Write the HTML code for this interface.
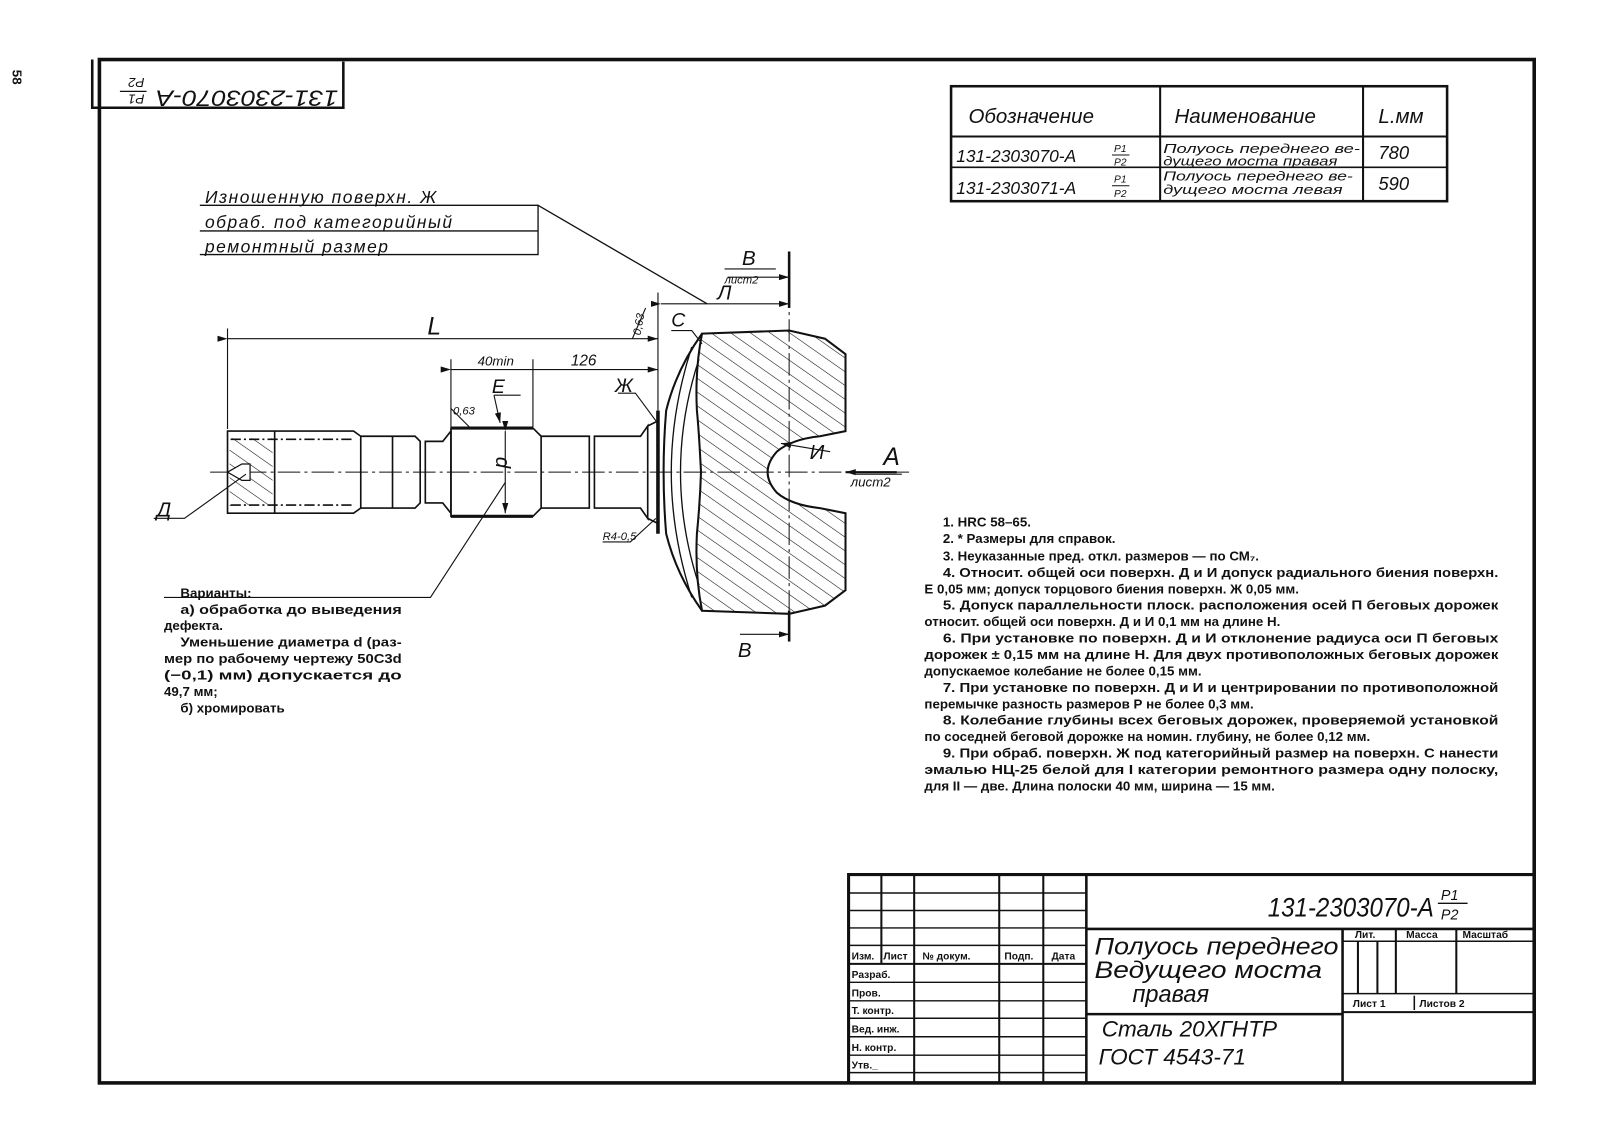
<!DOCTYPE html>
<html><head><meta charset="utf-8"><style>
html,body{margin:0;padding:0;background:#fff;width:1608px;height:1125px;overflow:hidden}
svg{display:block}
.h{font-family:"Liberation Sans","DejaVu Sans",sans-serif;font-style:italic;fill:#111}
.n{font-family:"Liberation Sans","DejaVu Sans",sans-serif;font-weight:bold;fill:#111;font-size:13px}
.s{font-family:"Liberation Sans","DejaVu Sans",sans-serif;font-weight:bold;fill:#111;font-size:10px}
</style></head><body>
<svg width="1608" height="1125" viewBox="0 0 1569 1096" preserveAspectRatio="none" xmlns="http://www.w3.org/2000/svg">
<defs>
<pattern id="hat" patternUnits="userSpaceOnUse" width="11" height="11" patternTransform="rotate(-55)">
<line x1="0" y1="0" x2="0" y2="11" stroke="#111" stroke-width="1.1"/>
</pattern>
<marker id="ar" markerWidth="10" markerHeight="6" refX="10" refY="3" orient="auto" markerUnits="userSpaceOnUse"><path d="M0,0 L10,3 L0,6 z" fill="#111"/></marker>
</defs>
<g stroke="#111" fill="none">
<rect x="97" y="58" width="1400" height="997" stroke-width="3.5"/>
<path d="M90 58 V105 H335 V60" stroke-width="2.5"/>
<rect x="928" y="84" width="484" height="112" stroke-width="2.5"/>
<line x1="928" y1="133" x2="1412" y2="133" stroke-width="2"/>
<line x1="928" y1="163" x2="1412" y2="163" stroke-width="1.5"/>
<line x1="1132" y1="84" x2="1132" y2="196" stroke-width="2"/>
<line x1="1330" y1="84" x2="1330" y2="196" stroke-width="2"/>
<line x1="1085" y1="151" x2="1102" y2="151" stroke-width="1"/>
<line x1="1085" y1="181" x2="1102" y2="181" stroke-width="1"/>
<path d="M828 1055 V852 H1497" stroke-width="3"/>
<g stroke-width="2">
<line x1="860" y1="852" x2="860" y2="939"/><line x1="892" y1="852" x2="892" y2="1055"/>
<line x1="975" y1="852" x2="975" y2="1055"/><line x1="1018" y1="852" x2="1018" y2="1055"/>
<line x1="1060" y1="852" x2="1060" y2="1055" stroke-width="2.5"/>
</g>
<g stroke-width="1.4">
<line x1="828" y1="870" x2="1060" y2="870"/><line x1="828" y1="887" x2="1060" y2="887"/>
<line x1="828" y1="904" x2="1060" y2="904"/><line x1="828" y1="921" x2="1060" y2="921"/>
<line x1="828" y1="939" x2="1060" y2="939" stroke-width="2"/>
<line x1="828" y1="957" x2="1060" y2="957"/><line x1="828" y1="975" x2="1060" y2="975"/>
<line x1="828" y1="992" x2="1060" y2="992"/><line x1="828" y1="1010" x2="1060" y2="1010"/>
<line x1="828" y1="1028" x2="1060" y2="1028"/><line x1="828" y1="1045" x2="1060" y2="1045"/>
</g>
<line x1="1060" y1="905" x2="1497" y2="905" stroke-width="2.5"/>
<line x1="1060" y1="988" x2="1310" y2="988" stroke-width="2.5"/>
<line x1="1310" y1="905" x2="1310" y2="1055" stroke-width="2.5"/>
<line x1="1310" y1="917" x2="1497" y2="917" stroke-width="1.5"/>
<line x1="1310" y1="968" x2="1497" y2="968" stroke-width="1.5"/>
<line x1="1310" y1="986" x2="1497" y2="986" stroke-width="2"/>
<line x1="1325" y1="917" x2="1325" y2="968" stroke-width="2"/>
<line x1="1344" y1="917" x2="1344" y2="968" stroke-width="2"/>
<line x1="1362" y1="905" x2="1362" y2="968" stroke-width="2"/>
<line x1="1421" y1="905" x2="1421" y2="968" stroke-width="2"/>
<line x1="1380" y1="970" x2="1380" y2="984" stroke-width="1.5"/>

<path d="M195 200 H525 V248 H195 M195 225 H525" stroke-width="1.3"/>
<line x1="525" y1="200" x2="690" y2="296" stroke-width="1.3"/>

<line x1="205" y1="460" x2="890" y2="460" stroke-width="1" stroke-dasharray="22 4 3 4"/>

<g stroke-width="1.6">
<path d="M222 420 H345 L352 425 V495 L345 500 H222 Z"/>
<line x1="268" y1="420" x2="268" y2="500"/>
<line x1="225" y1="428" x2="345" y2="428" stroke-dasharray="10 3 2 3"/>
<line x1="225" y1="492" x2="345" y2="492" stroke-dasharray="10 3 2 3"/>
<path d="M352 425 H405 L410 430 V490 L405 495 H352"/>
<line x1="383" y1="425" x2="383" y2="495"/>
<path d="M415 430 H432 L440 420 V500 L432 490 H415 Z"/>
<path d="M440 417 H520 L528 425 V495 L520 503 H440 Z"/>
<line x1="440" y1="417" x2="520" y2="417" stroke-width="3"/>
<line x1="440" y1="503" x2="520" y2="503" stroke-width="3"/>
<path d="M528 425 H575 V495 H528"/>
<path d="M580 425 H625 L632 415 V505 L625 495 H580 Z"/>
<line x1="632" y1="415" x2="642" y2="410"/><line x1="632" y1="505" x2="642" y2="510"/>
<line x1="642" y1="400" x2="642" y2="520" stroke-width="3.5"/>
</g>
<path d="M224 427 H266 V493 H224 Z" fill="url(#hat)" stroke="none"/>
<path d="M222 460 L236 452 H244 V468 H236 Z" fill="#fff" stroke-width="1.2"/>

<path d="M685 325 Q660 360 650 400 Q645 460 650 520 Q660 560 685 595" stroke-width="2"/>
<path d="M675 338 Q655 400 655 460 Q655 520 675 582" stroke-width="1.3"/>
<path d="M682 350 Q664 405 664 460 Q664 515 682 570" stroke-width="1.3"/>
<path d="M685 325 L770 322 L805 330 L825 345 V420 L800 425 Q772 428 758 440 Q740 460 758 480 Q772 492 800 495 L825 500 V575 L805 590 L770 598 L685 595 Q678 560 680 520 Q683 490 684 460 Q682 420 680 400 Q678 360 685 325 Z" fill="url(#hat)" stroke-width="2"/>
<line x1="770" y1="245" x2="770" y2="625" stroke-width="1" stroke-dasharray="22 4 3 4"/>

<g stroke-width="1.1">
<line x1="222" y1="320" x2="222" y2="418"/>
<line x1="222" y1="330" x2="642" y2="330" marker-start="url(#ar)" marker-end="url(#ar)"/>
<line x1="642" y1="285" x2="642" y2="400"/>
<line x1="440" y1="350" x2="440" y2="416"/><line x1="520" y1="350" x2="520" y2="416"/>
<line x1="440" y1="360" x2="642" y2="360" marker-start="url(#ar)" marker-end="url(#ar)"/>
<line x1="645" y1="296" x2="770" y2="296" marker-start="url(#ar)" marker-end="url(#ar)"/>
<line x1="493" y1="420" x2="493" y2="500" marker-start="url(#ar)" marker-end="url(#ar)"/>
<line x1="770" y1="245" x2="770" y2="300" stroke-width="2.5"/>
<line x1="710" y1="270" x2="770" y2="270" marker-end="url(#ar)"/>
<line x1="770" y1="595" x2="770" y2="625" stroke-width="2.5"/>
<line x1="722" y1="618" x2="770" y2="618" marker-end="url(#ar)"/>
<line x1="875" y1="460" x2="825" y2="460" stroke-width="2" marker-end="url(#ar)"/>
<line x1="835" y1="462" x2="880" y2="462"/>
<line x1="707" y1="262" x2="757" y2="262"/>
<path d="M150 505 H180 L240 462"/>
<line x1="810" y1="440" x2="762" y2="432" marker-end="url(#ar)"/>
<path d="M655 322 H675 L685 335"/>
<path d="M603 383 H620 L640 410"/>
<path d="M482 385 H508"/><line x1="482" y1="385" x2="488" y2="412" marker-end="url(#ar)"/>
<path d="M440 398 L458 416"/>
<path d="M617 330 L630 300"/>
<path d="M588 528 H615 L640 505"/>
<path d="M160 582 H420 L493 470"/>
</g>
</g>

<text class="n" x="0" y="0" font-size="15" transform="translate(12,68) rotate(90)">58</text>
<g transform="translate(213,81) rotate(180)">
<text class="h" x="-117" y="-7" font-size="22" textLength="178" lengthAdjust="spacingAndGlyphs">131-2303070-A</text>
<text class="h" x="72" y="-11" font-size="13">P1</text>
<line x1="70" y1="-8" x2="96" y2="-8" stroke="#111" stroke-width="1.3"/>
<text class="h" x="72" y="5" font-size="13">P2</text>
</g>

<text class="h" x="945" y="120" font-size="20">Обозначение</text>
<text class="h" x="1146" y="120" font-size="20">Наименование</text>
<text class="h" x="1345" y="120" font-size="20">L.мм</text>
<text class="h" x="933" y="158" font-size="17">131-2303070-А</text>
<text class="h" x="1087" y="148" font-size="10">P1</text><text class="h" x="1087" y="161" font-size="10">P2</text>
<text class="h" x="933" y="189" font-size="17">131-2303071-А</text>
<text class="h" x="1087" y="178" font-size="10">P1</text><text class="h" x="1087" y="192" font-size="10">P2</text>
<text class="h" x="1135" y="149" font-size="13" textLength="192" lengthAdjust="spacingAndGlyphs">Полуось переднего ве-</text>
<text class="h" x="1135" y="161" font-size="13" textLength="170" lengthAdjust="spacingAndGlyphs">дущего моста правая</text>
<text class="h" x="1135" y="176" font-size="13" textLength="185" lengthAdjust="spacingAndGlyphs">Полуось переднего ве-</text>
<text class="h" x="1135" y="189" font-size="13" textLength="175" lengthAdjust="spacingAndGlyphs">дущего моста левая</text>
<text class="h" x="1345" y="155" font-size="18">780</text>
<text class="h" x="1345" y="185" font-size="18">590</text>

<text class="h" x="200" y="198" font-size="17" letter-spacing="1.5">Изношенную поверхн.  Ж</text>
<text class="h" x="200" y="222" font-size="17" letter-spacing="1.5">обраб. под категорийный</text>
<text class="h" x="200" y="246" font-size="17" letter-spacing="1.5">ремонтный размер</text>

<text class="h" x="417" y="326" font-size="24">L</text>
<text class="h" x="466" y="356" font-size="13">40min</text>
<text class="h" x="557" y="356" font-size="15">126</text>
<text class="h" x="700" y="292" font-size="20">Л</text>
<text class="h" x="724" y="258" font-size="20">B</text>
<text class="h" x="707" y="276" font-size="11">лист2</text>
<text class="h" x="720" y="640" font-size="20">B</text>
<text class="h" x="862" y="453" font-size="24">A</text>
<text class="h" x="830" y="474" font-size="13">лист2</text>
<text class="h" x="790" y="447" font-size="20">И</text>
<text class="h" x="655" y="318" font-size="19">C</text>
<text class="h" x="600" y="382" font-size="19">Ж</text>
<text class="h" x="480" y="383" font-size="19">E</text>
<text class="h" x="442" y="404" font-size="11">0,63</text>
<text class="h" x="0" y="0" font-size="11" transform="translate(625,327) rotate(-80)">0,63</text>
<text class="h" x="0" y="0" font-size="20" transform="translate(484,445) rotate(90)">d</text>
<text class="h" x="153" y="503" font-size="20">Д</text>
<text class="h" x="588" y="526" font-size="11">R4-0,5</text>

<text class="n" x="176" y="582">Варианты:</text>
<text class="n" x="176" y="598" textLength="216" lengthAdjust="spacingAndGlyphs">а) обработка  до  выведения</text>
<text class="n" x="160" y="614">дефекта.</text>
<text class="n" x="176" y="630" textLength="216" lengthAdjust="spacingAndGlyphs">Уменьшение диаметра d (раз-</text>
<text class="n" x="160" y="646" textLength="232" lengthAdjust="spacingAndGlyphs">мер по рабочему чертежу 50С3d</text>
<text class="n" x="160" y="662" textLength="232" lengthAdjust="spacingAndGlyphs">(−0,1)   мм)   допускается   до</text>
<text class="n" x="160" y="678">49,7 мм;</text>
<text class="n" x="176" y="694">б) хромировать</text>

<g class="n">
<text x="920" y="513">1. HRC 58–65.</text>
<text x="920" y="529">2. * Размеры для справок.</text>
<text x="920" y="546">3. Неуказанные пред. откл. размеров — по СМ₇.</text>
<text x="920" y="562" textLength="542" lengthAdjust="spacingAndGlyphs">4. Относит. общей оси поверхн. Д и И допуск радиального биения поверхн.</text>
<text x="902" y="578">Е 0,05 мм;  допуск торцового биения поверхн. Ж 0,05 мм.</text>
<text x="920" y="594" textLength="542" lengthAdjust="spacingAndGlyphs">5. Допуск  параллельности плоск. расположения осей П беговых дорожек</text>
<text x="902" y="610">относит. общей оси поверхн. Д и И 0,1 мм на длине Н.</text>
<text x="920" y="626" textLength="542" lengthAdjust="spacingAndGlyphs">6. При  установке  по  поверхн.  Д  и  И  отклонение  радиуса  оси  П  беговых</text>
<text x="902" y="642" textLength="560" lengthAdjust="spacingAndGlyphs">дорожек ± 0,15 мм на длине Н. Для двух противоположных беговых дорожек</text>
<text x="902" y="658">допускаемое колебание не более 0,15 мм.</text>
<text x="920" y="674" textLength="542" lengthAdjust="spacingAndGlyphs">7. При установке по поверхн. Д и И и центрировании по противоположной</text>
<text x="902" y="690">перемычке разность размеров Р не более 0,3 мм.</text>
<text x="920" y="706" textLength="542" lengthAdjust="spacingAndGlyphs">8. Колебание  глубины  всех  беговых  дорожек,  проверяемой  установкой</text>
<text x="902" y="722">по соседней беговой дорожке на номин. глубину, не более 0,12 мм.</text>
<text x="920" y="738" textLength="542" lengthAdjust="spacingAndGlyphs">9. При обраб. поверхн. Ж под категорийный размер  на поверхн. С нанести</text>
<text x="902" y="754" textLength="560" lengthAdjust="spacingAndGlyphs">эмалью  НЦ-25  белой  для  I  категории  ремонтного  размера  одну  полоску,</text>
<text x="902" y="770">для II — две. Длина полоски 40 мм, ширина — 15 мм.</text>
</g>

<text class="s" x="831" y="935">Изм.</text><text class="s" x="862" y="935">Лист</text>
<text class="s" x="900" y="935">№ докум.</text><text class="s" x="980" y="935">Подп.</text><text class="s" x="1026" y="935">Дата</text>
<text class="s" x="831" y="953">Разраб.</text><text class="s" x="831" y="971">Пров.</text>
<text class="s" x="831" y="988">Т. контр.</text><text class="s" x="831" y="1006">Вед. инж.</text>
<text class="s" x="831" y="1024">Н. контр.</text><text class="s" x="831" y="1041">Утв._</text>
<text class="s" x="1322" y="914">Лит.</text><text class="s" x="1372" y="914">Масса</text><text class="s" x="1427" y="914">Масштаб</text>
<text class="s" x="1320" y="981">Лист 1</text><text class="s" x="1385" y="981">Листов 2</text>

<text class="h" x="1237" y="893" font-size="26" textLength="162" lengthAdjust="spacingAndGlyphs">131-2303070-А</text>
<text class="h" x="1406" y="877" font-size="14">P1</text>
<line x1="1403" y1="880" x2="1432" y2="880" stroke="#111" stroke-width="1.3"/>
<text class="h" x="1406" y="896" font-size="14">P2</text>
<text class="h" x="1068" y="930" font-size="23" textLength="238" lengthAdjust="spacingAndGlyphs">Полуось переднего</text>
<text class="h" x="1068" y="953" font-size="23" textLength="222" lengthAdjust="spacingAndGlyphs">Ведущего моста</text>
<text class="h" x="1105" y="976" font-size="23">правая</text>
<text class="h" x="1075" y="1010" font-size="22">Сталь 20ХГНТР</text>
<text class="h" x="1072" y="1037" font-size="22">ГОСТ 4543-71</text>
</svg>
</body></html>
